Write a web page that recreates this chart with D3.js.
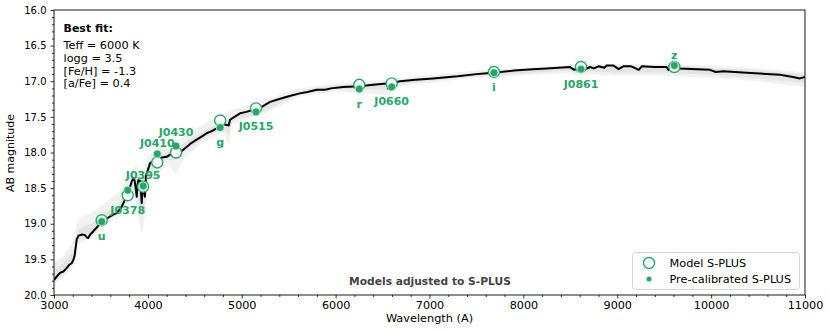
<!DOCTYPE html>
<html><head><meta charset="utf-8">
<script src="https://cdn.jsdelivr.net/npm/d3@7"></script>
<style>body{margin:0;background:#fff}svg{display:block}text{font-family:"DejaVu Sans",sans-serif}</style>
</head><body><svg id="c" width="830" height="332"></svg>
<script>
// Best-fit model spectrum (wavelength in A, AB magnitude)
const wave = [3000,3030,3064,3100,3130,3160,3190,3206,3220,3242,3260,3277,3300,3330,3350,3365,3385,3402,3450,3508,3560,3620,3668,3700,3721,3750,3774,3795,3810,3830,3845,3860,3881,3890,3898,3920,3934,3945,3968,3980,3987,4023,4060,4094,4102,4110,4150,4200,4250,4307,4340,4377,4450,4520,4580,4627,4680,4733,4800,4861,4875,4981,5050,5120,5170,5200,5301,5400,5500,5620,5700,5798,5890,5950,6082,6260,6400,6544,6563,6580,6686,6850,7037,7300,7500,7676,7900,8100,8248,8496,8542,8603,8662,8709,8750,8800,8863,8887,8960,9015,9064,9150,9229,9260,9400,9526,9546,9580,9668,9850,9988,10049,10129,10378,10734,10872,10946,11000];
const mag  = [19.79,19.74,19.69,19.67,19.63,19.58,19.55,19.51,19.45,19.22,19.17,19.16,19.15,19.16,19.19,19.20,19.15,19.13,19.06,18.97,18.93,18.88,18.85,18.80,18.76,18.68,18.60,18.52,18.48,18.40,18.36,18.40,18.62,18.45,18.39,18.40,18.71,18.45,18.62,18.33,18.30,18.15,18.12,18.10,18.16,18.09,18.07,18.06,18.02,17.99,18.00,17.96,17.88,17.82,17.77,17.73,17.70,17.66,17.60,17.62,17.54,17.45,17.43,17.40,17.43,17.37,17.29,17.25,17.21,17.17,17.15,17.12,17.12,17.10,17.08,17.07,17.05,17.03,17.11,17.03,17.00,16.98,16.96,16.93,16.90,16.88,16.85,16.83,16.82,16.80,16.84,16.81,16.83,16.80,16.82,16.79,16.81,16.78,16.78,16.83,16.79,16.79,16.84,16.79,16.80,16.80,16.84,16.81,16.82,16.83,16.84,16.87,16.86,16.88,16.91,16.94,16.96,16.94];

// Envelope of the other fitted models (grey band): outer and inner
const envWave = [3000,3100,3200,3250,3300,3400,3500,3600,3700,3780,3850,3890,3934,3970,4000,4100,4200,4300,4400,4600,4800,4861,4900,5200,5600,6000,6563,6600,7500,8500,8550,8700,9000,9229,9500,10000,10500,11000];
const envTop  = [19.55,19.45,19.25,18.95,18.90,18.85,18.75,18.65,18.55,18.35,18.20,18.20,18.25,18.15,18.05,17.95,17.90,17.85,17.75,17.60,17.45,17.45,17.40,17.28,17.10,17.03,16.98,16.97,16.85,16.77,16.77,16.76,16.76,16.76,16.76,16.78,16.82,16.87];
const envBot  = [19.85,19.75,19.60,19.30,19.25,19.20,19.05,18.97,18.90,18.70,18.55,18.85,19.15,18.90,18.40,18.35,18.15,18.30,18.05,17.85,17.70,17.90,17.60,17.48,17.22,17.14,17.20,17.08,16.95,16.88,16.92,16.90,16.92,16.92,16.92,16.95,17.00,17.08];
const inTop   = [19.65,19.55,19.40,19.10,19.05,19.00,18.88,18.80,18.72,18.50,18.32,18.35,18.40,18.28,18.18,18.05,18.00,17.93,17.85,17.70,17.55,17.55,17.48,17.34,17.14,17.06,17.01,17.00,16.88,16.79,16.80,16.78,16.78,16.79,16.78,16.81,16.85,16.90];
const inBot   = [19.80,19.70,19.55,19.25,19.20,19.12,19.00,18.92,18.85,18.62,18.45,18.70,18.95,18.70,18.33,18.20,18.10,18.10,17.98,17.80,17.65,17.75,17.56,17.44,17.19,17.11,17.12,17.05,16.93,16.85,16.88,16.86,16.88,16.88,16.88,16.91,16.96,17.02];

// S-PLUS filters
const filters   = ["u","J0378","J0395","J0410","J0430","g","J0515","r","J0660","i","J0861","z"];
const filtWave  = [3508,3785,3950,4100,4300,4770,5152,6252,6597,7687,8614,9608];
const modelMag  = [18.95,18.60,18.48,18.14,18.00,17.55,17.38,17.05,17.03,16.87,16.80,16.80];
const precalMag = [18.97,18.53,18.47,18.02,17.91,17.65,17.43,17.11,17.08,16.88,16.83,16.78];
const labelPos  = ["below","below","above","above","high","below","below","below","below","below","below","above"];

const xTicks = [3000,4000,5000,6000,7000,8000,9000,10000,11000];
const yTicks = [16.0,16.5,17.0,17.5,18.0,18.5,19.0,19.5,20.0];
const bestFit = ["Teff = 6000 K","logg = 3.5","[Fe/H] = -1.3","[a/Fe] = 0.4"];

const green = "#25a866";
const svg = d3.select("#c");
const L=54,R=805,T=10,B=295;
const x = d3.scaleLinear().domain([3000,11000]).range([L,R]);
const y = d3.scaleLinear().domain([16,20]).range([T,B]);

svg.append("defs").append("clipPath").attr("id","clip").append("rect")
  .attr("x",L).attr("y",T).attr("width",R-L).attr("height",B-T);
const plot = svg.append("g").attr("clip-path","url(#clip)");

// grey envelope
const envData = envWave.map((w,i)=>({w,t:envTop[i],b:envBot[i],it:inTop[i],ib:inBot[i]}));
plot.append("path").datum(envData)
  .attr("d", d3.area().x(d=>x(d.w)).y0(d=>y(d.b)).y1(d=>y(d.t)))
  .attr("fill","#f1f1f1");
plot.append("path").datum(envData)
  .attr("d", d3.area().x(d=>x(d.w)).y0(d=>y(d.ib)).y1(d=>y(d.it)))
  .attr("fill","#e4e4e4");

// best-fit line
const specData = wave.map((w,i)=>({w,m:mag[i]}));
plot.append("path").datum(specData)
  .attr("d", d3.line().x(d=>x(d.w)).y(d=>y(d.m)))
  .attr("fill","none").attr("stroke","#000").attr("stroke-width",2).attr("stroke-linejoin","round");

// markers
const fd = filters.map((f,i)=>({f,w:filtWave[i],mm:modelMag[i],pm:precalMag[i],pos:labelPos[i]}));
plot.selectAll("circle.model").data(fd).join("circle").attr("class","model")
  .attr("cx",d=>x(d.w)).attr("cy",d=>y(d.mm)).attr("r",5.5)
  .attr("fill","#fff").attr("stroke",green).attr("stroke-width",1.4);
plot.selectAll("circle.pre").data(fd).join("circle").attr("class","pre")
  .attr("cx",d=>x(d.w)).attr("cy",d=>y(d.pm)).attr("r",4)
  .attr("fill",green).attr("stroke","#fff").attr("stroke-width",0.6);

const gapAbove = {above:7, high:10};
svg.selectAll("text.flab").data(fd).join("text").attr("class","flab")
  .attr("x",d=>x(d.w))
  .attr("y",d=> d.pos==="below" ? y(Math.max(d.mm,d.pm)) + 18.5 : y(Math.min(d.mm,d.pm)) - gapAbove[d.pos])
  .attr("text-anchor","middle").attr("font-size",11).attr("font-weight","bold")
  .attr("fill",green).text(d=>d.f);

// frame
svg.append("rect").attr("x",L).attr("y",T).attr("width",R-L).attr("height",B-T)
  .attr("fill","none").attr("stroke","#000").attr("stroke-width",0.9);

// axes
const xAxis = svg.append("g").attr("transform",`translate(0,${B})`)
  .call(d3.axisBottom(x).tickValues(xTicks).tickFormat(d3.format("d")).tickSize(3.5).tickPadding(3));
const xMinor = svg.append("g").attr("transform",`translate(0,${B})`)
  .call(d3.axisBottom(x).tickValues(d3.range(3000,11001,200).filter(v=>v%1000)).tickSize(2).tickFormat(""));
const yAxis = svg.append("g").attr("transform",`translate(${L},0)`)
  .call(d3.axisLeft(y).tickValues(yTicks).tickFormat(d3.format(".1f")).tickSize(3.5).tickPadding(4));
const yMinor = svg.append("g").attr("transform",`translate(${L},0)`)
  .call(d3.axisLeft(y).tickValues(d3.range(160,201,1).map(v=>v/10).filter((v,i)=>i%5)).tickSize(2).tickFormat(""));
[xAxis,xMinor,yAxis,yMinor].forEach(g=>{g.select(".domain").remove();g.selectAll("line").attr("stroke","#000").attr("stroke-width",0.8);});
xAxis.selectAll("text").attr("font-size",11.2).attr("fill","#000").attr("font-family","DejaVu Sans");
yAxis.selectAll("text").attr("font-size",10).attr("fill","#000").attr("font-family","DejaVu Sans");

svg.append("text").attr("x",(L+R)/2).attr("y",321.5).attr("text-anchor","middle")
  .attr("font-size",11.3).text("Wavelength (A)");
svg.append("text").attr("transform","translate(14,153) rotate(-90)").attr("text-anchor","middle")
  .attr("font-size",11).text("AB magnitude");

// annotation
svg.append("text").attr("x",63.5).attr("y",31.5).attr("font-size",11).attr("font-weight","bold").text("Best fit:");
svg.selectAll("text.bf").data(bestFit).join("text").attr("class","bf")
  .attr("x",63.5).attr("y",(d,i)=>49+i*12.8).attr("font-size",11.3).text(d=>d);
svg.append("text").attr("x",430).attr("y",285).attr("text-anchor","middle").attr("font-size",10.7)
  .attr("font-weight","bold").attr("fill","#444").text("Models adjusted to S-PLUS");

// legend
const lg = svg.append("g");
lg.append("rect").attr("x",632.5).attr("y",252.5).attr("width",167).attr("height",37).attr("rx",3)
  .attr("fill","#fff").attr("fill-opacity",0.8).attr("stroke","#d6d6d6").attr("stroke-width",1);
lg.append("circle").attr("cx",649).attr("cy",263).attr("r",5.5).attr("fill","#fff").attr("stroke",green).attr("stroke-width",1.4);
lg.append("circle").attr("cx",649).attr("cy",279).attr("r",2.5).attr("fill",green);
lg.append("text").attr("x",669.5).attr("y",267).attr("font-size",11.3).text("Model S-PLUS");
lg.append("text").attr("x",669.5).attr("y",283).attr("font-size",11.3).text("Pre-calibrated S-PLUS");
</script></body></html>
